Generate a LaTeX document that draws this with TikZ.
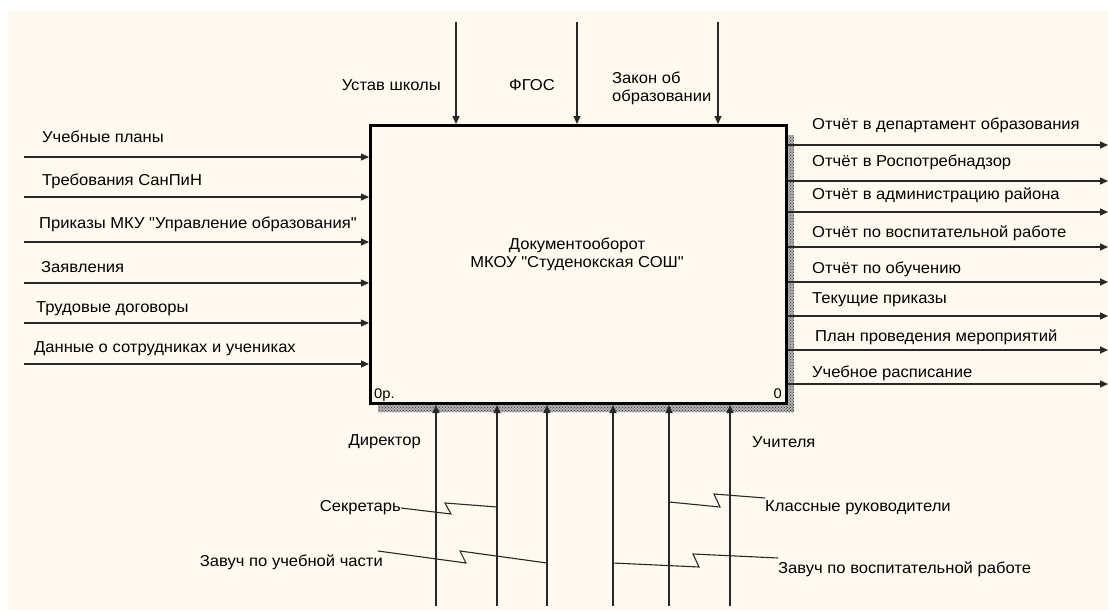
\documentclass[tikz,border=0pt]{standalone}
\usepackage{fontspec}
\setmainfont{Liberation Sans}[Ligatures=TeXOff, FakeStretch=1.05]
\usetikzlibrary{arrows.meta,patterns}
\definecolor{cream}{RGB}{255,250,240}
\definecolor{ink}{RGB}{40,40,40}
\tikzset{
  conn/.style={draw=ink, line width=1.3pt, -{Triangle[length=8pt,width=7pt]}},
  wire/.style={draw=ink, line width=1.1pt},
  lbl/.style={inner sep=0pt, font=\fontsize{15.8}{18}\selectfont, text=black},
  small/.style={inner sep=0pt, font=\fontsize{14}{16}\selectfont, text=black}
}
\begin{document}
\begin{tikzpicture}[x=1pt,y=-1pt]
\useasboundingbox (0,0) rectangle (1108,610);
\fill[white] (0,0) rectangle (1108,610);
\fill[cream] (8,11) rectangle (1108,610);
% shadow
\fill[black!30] (378,403) rectangle (794,412);
\fill[black!30] (786,135) rectangle (794,412);
\fill[pattern=crosshatch dots, pattern color=black!80] (378,403) rectangle (794,412);
\fill[pattern=crosshatch dots, pattern color=black!80] (786,135) rectangle (794,412);
% main box
\node[draw=black, line width=3pt, fill=cream, minimum width=416pt, minimum height=278pt, anchor=north west, inner sep=0pt] (box) at (369,124) {};
\node[lbl, align=center] (title) at (577,254) {Документооборот\\МКОУ "Студенокская СОШ"};
\node[small, anchor=west] (num1) at (374,395) {0р.};
\node[small, anchor=east] (num2) at (782,394) {0};
% controls (top)
\coordinate (c1) at (456,22);
\coordinate (c2) at (577,22);
\coordinate (c3) at (718,22);
\draw[conn] (c1) -- (c1 |- box.north);
\draw[conn] (c2) -- (c2 |- box.north);
\draw[conn] (c3) -- (c3 |- box.north);
\node[lbl, anchor=east] (tc1) at (441,85) {Устав школы};
\node[lbl] (tc2) at (532,85) {ФГОС};
\node[lbl, anchor=west, align=left] (tc3) at (612,88) {Закон об\\образовании};
% inputs (left)
\foreach \n/\y in {1/157,2/197,3/242,4/283,5/323,6/364}{
  \coordinate (i\n) at (24,\y);
  \draw[conn] (i\n) -- (i\n -| box.west);
}
\node[lbl, anchor=west] (ti1) at (42,137) {Учебные планы};
\node[lbl, anchor=west] (ti2) at (42,181) {Требования СанПиН};
\node[lbl, anchor=west] (ti3) at (39,224) {Приказы МКУ "Управление образования"};
\node[lbl, anchor=west] (ti4) at (41,267) {Заявления};
\node[lbl, anchor=west] (ti5) at (36,309) {Трудовые договоры};
\node[lbl, anchor=west] (ti6) at (34,349) {Данные о сотрудниках и учениках};
% outputs (right)
\foreach \n/\y in {1/145,2/181,3/212,4/247,5/282,6/316,7/350,8/384}{
  \coordinate (o\n) at (1108,\y);
  \draw[conn] (o\n -| box.east) -- (o\n);
}
\node[lbl, anchor=west] (to1) at (812,125) {Отчёт в департамент образования};
\node[lbl, anchor=west] (to2) at (812,162) {Отчёт в Роспотребнадзор};
\node[lbl, anchor=west] (to3) at (812,195) {Отчёт в администрацию района};
\node[lbl, anchor=west] (to4) at (812,233) {Отчёт по воспитательной работе};
\node[lbl, anchor=west] (to5) at (812,269) {Отчёт по обучению};
\node[lbl, anchor=west] (to6) at (812,300) {Текущие приказы};
\node[lbl, anchor=west] (to7) at (815,337) {План проведения мероприятий};
\node[lbl, anchor=west] (to8) at (812,373) {Учебное расписание};
% mechanisms (bottom)
\foreach \n/\x in {1/436,2/497,3/547,4/613,5/669,6/730}{
  \coordinate (m\n) at (\x,606);
  \draw[conn] (m\n) -- (m\n |- box.south);
}
\node[lbl, anchor=east] (tm1) at (421,442) {Директор};
\node[lbl, anchor=west] (tm6) at (752,442) {Учителя};
\node[lbl, anchor=east] (tsek) at (401,508) {Секретарь};
\node[lbl, anchor=east] (tzu) at (383,562) {Завуч по учебной части};
\node[lbl, anchor=west] (tkr) at (765,508) {Классные руководители};
\node[lbl, anchor=west] (tzv) at (778,569) {Завуч по воспитательной работе};
% squiggle connectors
\coordinate (s1) at (378,551);
\coordinate (s2) at (778,558);
\coordinate (s3) at (765,498);
\draw[wire] (tsek.east) -- (451,514) -- (445,503) -- (m2 |- 0,507);
\draw[wire] (s1) -- (466,563) -- (460,551) -- (m3 |- 0,563);
\draw[wire] (m5 |- 0,502) -- (720,507) -- (714,494) -- (s3);
\draw[wire] (m4 |- 0,563) -- (699,567) -- (693,554) -- (s2);
\end{tikzpicture}
\end{document}
